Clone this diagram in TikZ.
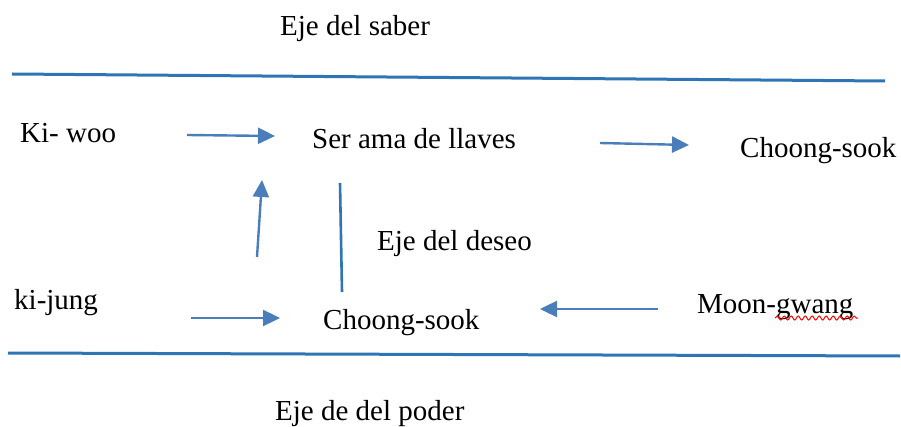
\documentclass[tikz,border=0pt]{standalone}
\usepackage{fontspec}
\setmainfont{Liberation Serif}
\usetikzlibrary{arrows.meta,decorations.pathmorphing}
\definecolor{ruleblue}{RGB}{46,117,182}
\definecolor{arrowblue}{RGB}{74,126,187}
\tikzset{
  axisline/.style={color=ruleblue, line width=3pt},
  actarrow/.style={color=arrowblue, line width=2.4pt, -{Triangle[length=17pt,width=16pt]}},
  actant/.style={anchor=base west, inner sep=0pt, font=\fontsize{29}{34}\selectfont}
}
\begin{document}
\begin{tikzpicture}[x=1pt,y=-1pt]
    \useasboundingbox (0,0) rectangle (901,427);
    %\draw[help lines, color=blue!20,step=50pt] (0,0) grid (901,427);
    \coordinate (S1) at (12,74);   \coordinate (S2) at (885,81);
    \coordinate (P1) at (8,353);   \coordinate (P2) at (900,356);
    \coordinate (A1) at (187,135); \coordinate (A2) at (275,136);
    \coordinate (B1) at (600,143); \coordinate (B2) at (689,145);
    \coordinate (C1) at (257,257); \coordinate (C2) at (262,180);
    \coordinate (D1) at (191,318); \coordinate (D2) at (280,318);
    \coordinate (E1) at (658,309); \coordinate (E2) at (540,309);
    \coordinate (V1) at (340,183); \coordinate (V2) at (342,292);

    \draw[axisline] (S1) -- (S2);
    \draw[axisline] (P1) -- (P2);
    \draw[color=ruleblue, line width=2.6pt] (V1) -- (V2);
    \foreach \a/\b in {A1/A2,B1/B2,C1/C2,D1/D2,E1/E2}
      \draw[actarrow] (\a) -- (\b);

    \node[actant] (saber)  at (280,36)  {Eje del saber};
    \node[actant] (kiwoo)  at (20,143)  {Ki- woo};
    \node[actant] (ama)    at (312,149) {Ser ama de llaves};
    \node[actant] (choong) at (740,158) {Choong-sook};
    \node[actant] (deseo)  at (377,251) {Eje del deseo};
    \node[actant] (kijung) at (14,309)  {ki-jung};
    \node[actant] (sook)   at (323,329) {Choong-sook};
    \node[actant] (moon)   at (697,313) {Moon-gwang};
    \node[actant] (poder)  at (275,420) {Eje de del poder};

    % spell-check underline
    \coordinate (W1) at (775,318); \coordinate (W2) at (858,318);
    \draw[red, line width=1pt, decorate, decoration={snake,amplitude=2pt,segment length=7pt}] (W1) -- (W2);
  \end{tikzpicture}
\end{document}
